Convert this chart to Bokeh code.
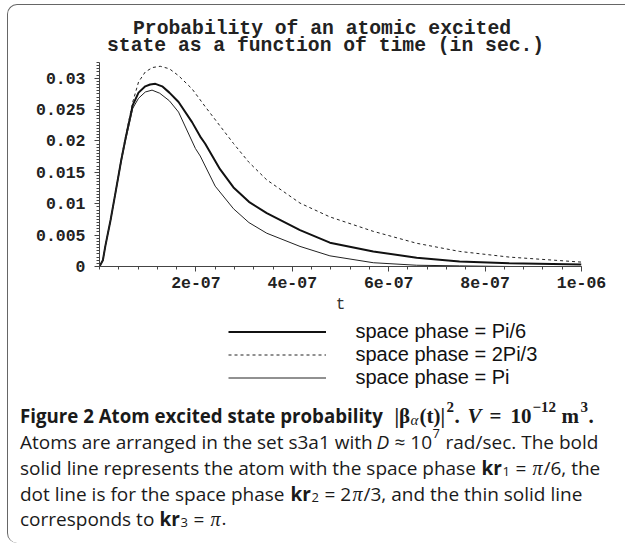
from bokeh.plotting import figure
from bokeh.models import (Range1d, FixedTicker, CustomJSTickFormatter, Legend,
                          LegendItem)
from bokeh.layouts import column
from bokeh.embed import file_html
from bokeh.resources import INLINE
from bokeh.core.properties import value

# ---------------- data ----------------
t_pi6 = [0, 0.7e-8, 1.2e-8, 2.3e-8, 3.3e-8, 4.5e-8, 5.4e-8, 6.9e-8, 8.1e-8, 9.5e-8,
         1.05e-7, 1.16e-7, 1.3e-7, 1.45e-7, 1.64e-7, 1.92e-7, 2.09e-7, 2.19e-7,
         2.5e-7, 2.78e-7, 3.1e-7, 3.47e-7, 4.16e-7, 4.78e-7, 5.68e-7, 6.58e-7,
         7.47e-7, 8.5e-7, 1.0e-6]
p_pi6 = [0, 0.001, 0.0032, 0.0074, 0.0117, 0.0169, 0.0204, 0.0257, 0.0277, 0.0287,
         0.0290, 0.0291, 0.0287, 0.0277, 0.0262, 0.0230, 0.0207, 0.0196,
         0.0155, 0.0126, 0.0103, 0.0085, 0.0058, 0.0038, 0.0024, 0.0014,
         0.0008, 0.0005, 0.0003]

t_2pi3 = [0, 0.7e-8, 1.2e-8, 2.3e-8, 3.3e-8, 4.5e-8, 5.4e-8, 6.9e-8, 8.1e-8, 9.5e-8,
          1.1e-7, 1.26e-7, 1.45e-7, 1.64e-7, 1.92e-7, 2.19e-7, 2.5e-7, 2.78e-7,
          3.1e-7, 3.47e-7, 4.16e-7, 4.78e-7, 5.68e-7, 6.58e-7, 7.47e-7, 8.5e-7, 1.0e-6]
p_2pi3 = [0, 0.001, 0.0032, 0.0074, 0.0118, 0.0171, 0.0207, 0.0262, 0.0294, 0.0310,
          0.0317, 0.0319, 0.0315, 0.0304, 0.0283, 0.0255, 0.0224, 0.0196,
          0.0166, 0.0138, 0.0101, 0.0079, 0.0056, 0.0037, 0.0024, 0.0015, 0.0007]

t_pi = [0, 0.7e-8, 1.2e-8, 2.3e-8, 3.3e-8, 4.5e-8, 5.4e-8, 6.9e-8, 8.1e-8, 9.5e-8,
        1.09e-7, 1.25e-7, 1.45e-7, 1.64e-7, 1.99e-7, 2.09e-7, 2.4e-7, 2.78e-7,
        3.1e-7, 3.47e-7, 4.16e-7, 4.78e-7, 5.68e-7, 6.58e-7, 7.47e-7, 8.5e-7, 1.0e-6]
p_pi = [0, 0.001, 0.0032, 0.0074, 0.0116, 0.0167, 0.0201, 0.0252, 0.0268, 0.0278,
        0.0281, 0.0276, 0.0264, 0.0246, 0.0188, 0.0176, 0.0128, 0.0092,
        0.0070, 0.0053, 0.0032, 0.0017, 0.0006, 0.0002, 0.0001, 0.0, 0.0]

series_labels = ["space phase = Pi/6", "space phase = 2Pi/3", "space phase = Pi"]

x_ticks = [2e-7, 4e-7, 6e-7, 8e-7, 1e-6]
x_tick_labels = ["2e-07", "4e-07", "6e-07", "8e-07", "1e-06"]
y_ticks = [0, 0.005, 0.01, 0.015, 0.02, 0.025, 0.03]
y_tick_labels = ["0", "0.005", "0.01", "0.015", "0.02", "0.025", "0.03"]

title_lines = ["Probability of an atomic excited", "state as a function of time (in sec.)"]
x_label = "t"

# ---------------- layout constants ----------------
MONO = "Liberation Mono"
SANS = "Open Sans"
SERIF = "Liberation Serif"
LEGEND_FONT = "Liberation Sans"
W = 617
H0 = 54    # title strip
H1 = 260   # chart
H2 = 224   # legend + caption
FL, FR, FT, FB = 91, 573, 3, 207   # chart frame edges on the chart canvas


def no_frame_align(fig):
    try:
        fig.frame_align = False
    except Exception:
        pass


def blank(height):
    f = figure(width=W, height=height, output_backend="svg", toolbar_location=None,
               title=None, x_range=Range1d(0, W), y_range=Range1d(height, 0),
               x_axis_location=None, y_axis_location=None,
               min_border=0, min_border_left=0, min_border_right=0,
               min_border_top=0, min_border_bottom=0)
    no_frame_align(f)
    f.xgrid.visible = False
    f.ygrid.visible = False
    f.outline_line_color = None
    f.background_fill_color = None
    f.border_fill_color = None
    return f


# ---------------- title strip ----------------
t0 = blank(H0)
for txt, x, y in zip(title_lines, [124.5, 98.5], [23.5, 40.5]):
    t0.text(x=[x], y=[y], text=[txt], text_font=value(MONO), text_font_style="bold",
            text_font_size="19.7px", text_color="#222222",
            text_baseline="middle", text_align="left")

# ---------------- chart ----------------
p = figure(width=W, height=H1, output_backend="svg", toolbar_location=None, title=None,
           x_range=Range1d(0, 1e-6), y_range=Range1d(0, 0.0325),
           min_border_left=FL, min_border_right=W - FR, min_border_top=FT,
           min_border_bottom=H1 - FB)
no_frame_align(p)
p.outline_line_color = None
p.xgrid.visible = False
p.ygrid.visible = False
p.background_fill_color = None
p.border_fill_color = None

fmt_code = """
const i = vals.findIndex(v => Math.abs(v - tick) <= 1e-6 * Math.abs(v) + 1e-15);
return i < 0 ? "" : labs[i];
"""

xa = p.xaxis[0]
xa.ticker = FixedTicker(ticks=x_ticks, minor_ticks=[i * 4e-8 for i in range(26)])
xa.formatter = CustomJSTickFormatter(args=dict(vals=x_ticks, labs=x_tick_labels), code=fmt_code)
ya = p.yaxis[0]
ya.ticker = FixedTicker(ticks=y_ticks, minor_ticks=[i * 0.0005 for i in range(66)])
ya.formatter = CustomJSTickFormatter(args=dict(vals=y_ticks, labs=y_tick_labels), code=fmt_code)

for ax in (xa, ya):
    ax.axis_line_color = "#444444"
    ax.major_tick_line_color = "#444444"
    ax.minor_tick_line_color = "#444444"
    ax.major_tick_in = 0
    ax.major_tick_out = 5
    ax.minor_tick_in = 0
    ax.minor_tick_out = 3
    ax.major_label_text_font = MONO
    ax.major_label_text_font_style = "bold"
    ax.major_label_text_font_size = "16.5px"
    ax.major_label_text_color = "#222222"
ya.major_label_standoff = 9
xa.major_label_standoff = 5

xa.axis_label = x_label
xa.axis_label_text_font = MONO
xa.axis_label_text_font_style = "normal"
xa.axis_label_text_font_size = "16px"
xa.axis_label_text_color = "#333333"
xa.axis_label_standoff = 5

styles = [dict(line_color="#111111", line_width=2.0),
          dict(line_color="#222222", line_width=1.0, line_dash="3 3"),
          dict(line_color="#222222", line_width=1.0)]
p.line(t_pi6, p_pi6, **styles[0])
p.line(t_2pi3, p_2pi3, **styles[1])
p.line(t_pi, p_pi, **styles[2])

# ---------------- legend + caption ----------------
c = blank(H2)
nan = float("nan")
swatches = [c.line(x=[nan], y=[nan], **st) for st in styles]
legend = Legend(items=[LegendItem(label=lab, renderers=[r])
                       for lab, r in zip(series_labels, swatches)],
                location=(219.5, H2 - 70), orientation="vertical",
                border_line_color=None, background_fill_alpha=0,
                glyph_width=98, glyph_height=21, label_height=21,
                label_standoff=30, spacing=0, padding=0, margin=0,
                label_text_font=LEGEND_FONT, label_text_font_size="20px",
                label_text_color="#111111")
c.add_layout(legend, "center")

base = [96, 122, 148, 174, 199]

# (line, x, dy, text, font, style, size)
segs = [
    (0, 11.5, 0, "Figure 2 Atom excited state probability", SANS, "bold", 18.7),
    (0, 386, 0, "|\u03b2", SERIF, "bold", 21),
    (0, 402, 4, "\u03b1", SERIF, "italic", 15),
    (0, 411, 0, "(t)|", SERIF, "bold", 21),
    (0, 438, -9, "2", SERIF, "bold", 15),
    (0, 446, 0, ".", SERIF, "bold", 21),
    (0, 459, 0, "V", SERIF, "bold italic", 21),
    (0, 481, 0, "=", SERIF, "bold", 21),
    (0, 502, 0, "10", SERIF, "bold", 21),
    (0, 524, -9, "\u221212", SERIF, "bold", 15),
    (0, 553, 0, "m", SERIF, "bold", 21),
    (0, 572, -9, "3", SERIF, "bold", 15),
    (0, 580, 0, ".", SERIF, "bold", 21),
    (1, 11.5, 0, "Atoms are arranged in the set s3a1 with", SANS, "normal", 19),
    (1, 368, 0, "D", SANS, "italic", 19),
    (1, 386, 0, "\u2248 10", SANS, "normal", 19),
    (1, 424, -8, "7", SANS, "normal", 13),
    (1, 437, 0, "rad/sec. The bold", SANS, "normal", 19),
    (2, 11.5, 0, "solid line represents the atom with the space phase", SANS, "normal", 19),
    (2, 473, 0, "kr", SANS, "bold", 19),
    (2, 494, 4, "1", SANS, "normal", 13),
    (2, 507, 0, "=", SANS, "normal", 19),
    (2, 524, 0, "\u03c0", SERIF, "italic", 20),
    (2, 535, 0, "/6, the", SANS, "normal", 19),
    (3, 11.5, 0, "dot line is for the space phase", SANS, "normal", 19),
    (3, 282, 0, "kr", SANS, "bold", 19),
    (3, 303, 4, "2", SANS, "normal", 13),
    (3, 316, 0, "= 2", SANS, "normal", 19),
    (3, 344, 0, "\u03c0", SERIF, "italic", 20),
    (3, 355, 0, "/3, and the thin solid line", SANS, "normal", 19),
    (4, 11.5, 0, "corresponds to", SANS, "normal", 19),
    (4, 151, 0, "kr", SANS, "bold", 19),
    (4, 172, 4, "3", SANS, "normal", 13),
    (4, 185, 0, "=", SANS, "normal", 19),
    (4, 202, 0, "\u03c0", SERIF, "italic", 20),
    (4, 213, 0, ".", SANS, "normal", 19),
]
for (ln, x, dy, txt, font, style, size) in segs:
    c.text(x=[x], y=[base[ln] + dy], text=[txt], text_font=value(font),
           text_font_style=style, text_font_size=f"{size}px",
           text_color="#1a1a1a", text_baseline="alphabetic", text_align="left")

layout = column(t0, p, c, spacing=0,
                styles={"margin-left": "7px", "margin-top": "4px",
                        "border-left": "1.5px solid #666666",
                        "border-top": "1.5px solid #666666",
                        "border-top-left-radius": "10px",
                        "border-bottom-left-radius": "10px"})

open("out.html", "w").write(file_html(layout, INLINE))
